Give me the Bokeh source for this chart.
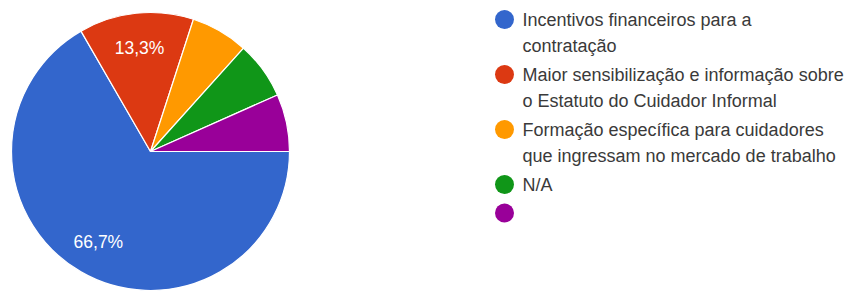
import numpy as np
from bokeh.plotting import figure
from bokeh.models import Range1d, ColumnDataSource
from bokeh.core.properties import value
from bokeh.embed import file_html
from bokeh.resources import INLINE

categories = [
    "Incentivos financeiros para a\ncontratação",
    "Maior sensibilização e informação sobre\no Estatuto do Cuidador Informal",
    "Formação específica para cuidadores\nque ingressam no mercado de trabalho",
    "N/A",
    "",
]
counts = [10, 2, 1, 1, 1]
colors = ["#3366cc", "#dc3912", "#ff9900", "#109618", "#990099"]

W, H = 846, 291
p = figure(width=W, height=H, output_backend="svg", toolbar_location=None,
           x_range=Range1d(0, W), y_range=Range1d(-H, 0),
           min_border=0, border_fill_color="white")
p.axis.visible = False
p.grid.visible = False
p.outline_line_color = None

cx, cy, R = 150, -151, 139
vals = np.array(counts, dtype=float)
frac = vals / vals.sum()
cum = np.cumsum(frac)
prev = cum - frac
start = -cum * 2 * np.pi
end = -prev * 2 * np.pi
src = ColumnDataSource(dict(start=start, end=end, color=colors))
p.wedge(x=cx, y=cy, radius=R, start_angle="start", end_angle="end",
        fill_color="color", line_color="white", line_width=1.2, source=src)

# percentage labels
mid = (start + end) / 2
lx, ly, lt = [], [], []
for f, m in zip(frac, mid):
    if f >= 0.1:
        lx.append(cx + 0.75 * R * np.cos(m))
        ly.append(cy + 0.75 * R * np.sin(m))
        lt.append(f"{f*100:.1f}%".replace(".", ","))
p.text(x=lx, y=ly, text=lt, text_color="white", text_font=value("Liberation Sans"),
       text_font_size="17.5px", text_align="center", text_baseline="middle")

# legend
leg_x, y0, line_h, gap = 504, -19, 26.5, 2
mx, my, tx, ty, tt = [], [], [], [], []
y = y0
for cat in categories:
    mx.append(leg_x)
    my.append(y)
    for ln in cat.split("\n"):
        tx.append(leg_x + 18)
        ty.append(y)
        tt.append(ln)
        y -= line_h
    y -= gap
p.scatter(x=mx, y=my, size=19, fill_color=colors, line_color=None)
p.text(x=tx, y=ty, text=tt, text_color="#3a3a3a", text_font=value("Liberation Sans"),
       text_font_size="18px", text_align="left", text_baseline="middle")

open("out.html", "w").write(file_html(p, INLINE))
